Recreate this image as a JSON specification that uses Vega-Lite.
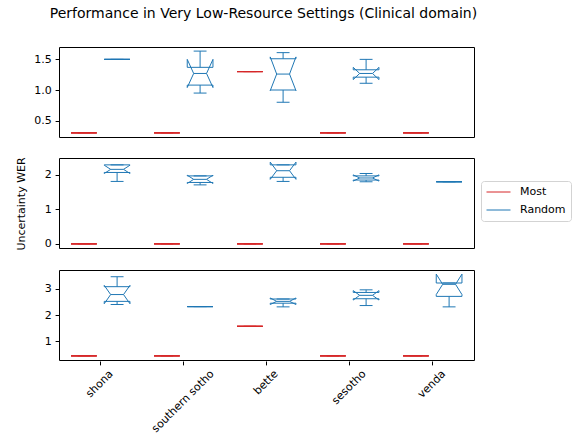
{
"$schema": "https://vega.github.io/schema/vega-lite/v6.json",
"padding": {"left": 15, "top": 6, "right": 0, "bottom": 0},
"title": {"text": "Performance in Very Low-Resource Settings (Clinical domain)", "font": "DejaVu Sans", "fontSize": 14, "fontWeight": "normal", "color": "black", "anchor": "middle", "offset": 26, "dx": -30},
"data": {"values": [
{"panel":1,"lang":"shona","group":"Most","whislo":0.3,"q1":0.3,"cilo":0.3,"med":0.3,"cihi":0.3,"q3":0.3,"whishi":0.3},
{"panel":1,"lang":"shona","group":"Random","whislo":1.5,"q1":1.5,"cilo":1.5,"med":1.5,"cihi":1.5,"q3":1.5,"whishi":1.5},
{"panel":1,"lang":"southern sotho","group":"Most","whislo":0.3,"q1":0.3,"cilo":0.3,"med":0.3,"cihi":0.3,"q3":0.3,"whishi":0.3},
{"panel":1,"lang":"southern sotho","group":"Random","whislo":0.95,"q1":1.08,"cilo":1.04,"med":1.27,"cihi":1.5,"q3":1.37,"whishi":1.635},
{"panel":1,"lang":"bette","group":"Most","whislo":1.3,"q1":1.3,"cilo":1.3,"med":1.3,"cihi":1.3,"q3":1.3,"whishi":1.3},
{"panel":1,"lang":"bette","group":"Random","whislo":0.8,"q1":1.0,"cilo":0.99,"med":1.26,"cihi":1.54,"q3":1.51,"whishi":1.61},
{"panel":1,"lang":"sesotho","group":"Most","whislo":0.3,"q1":0.3,"cilo":0.3,"med":0.3,"cihi":0.3,"q3":0.3,"whishi":0.3},
{"panel":1,"lang":"sesotho","group":"Random","whislo":1.11,"q1":1.21,"cilo":1.17,"med":1.27,"cihi":1.37,"q3":1.33,"whishi":1.5},
{"panel":1,"lang":"venda","group":"Most","whislo":0.3,"q1":0.3,"cilo":0.3,"med":0.3,"cihi":0.3,"q3":0.3,"whishi":0.3},
{"panel":2,"lang":"shona","group":"Most","whislo":0,"q1":0,"cilo":0,"med":0,"cihi":0,"q3":0,"whishi":0},
{"panel":2,"lang":"shona","group":"Random","whislo":1.81,"q1":2.07,"cilo":2.04,"med":2.16,"cihi":2.28,"q3":2.29,"whishi":2.29},
{"panel":2,"lang":"southern sotho","group":"Most","whislo":0,"q1":0,"cilo":0,"med":0,"cihi":0,"q3":0,"whishi":0},
{"panel":2,"lang":"southern sotho","group":"Random","whislo":1.71,"q1":1.78,"cilo":1.75,"med":1.87,"cihi":1.99,"q3":1.97,"whishi":1.97},
{"panel":2,"lang":"bette","group":"Most","whislo":0,"q1":0,"cilo":0,"med":0,"cihi":0,"q3":0,"whishi":0},
{"panel":2,"lang":"bette","group":"Random","whislo":1.81,"q1":1.93,"cilo":1.87,"med":2.12,"cihi":2.37,"q3":2.29,"whishi":2.29},
{"panel":2,"lang":"sesotho","group":"Most","whislo":0,"q1":0,"cilo":0,"med":0,"cihi":0,"q3":0,"whishi":0},
{"panel":2,"lang":"sesotho","group":"Random","whislo":1.8,"q1":1.85,"cilo":1.82,"med":1.91,"cihi":2.0,"q3":1.97,"whishi":2.04},
{"panel":2,"lang":"venda","group":"Most","whislo":0,"q1":0,"cilo":0,"med":0,"cihi":0,"q3":0,"whishi":0},
{"panel":2,"lang":"venda","group":"Random","whislo":1.8,"q1":1.8,"cilo":1.8,"med":1.8,"cihi":1.8,"q3":1.8,"whishi":1.8},
{"panel":3,"lang":"shona","group":"Most","whislo":0.44,"q1":0.44,"cilo":0.44,"med":0.44,"cihi":0.44,"q3":0.44,"whishi":0.44},
{"panel":3,"lang":"shona","group":"Random","whislo":2.4,"q1":2.52,"cilo":2.43,"med":2.78,"cihi":3.13,"q3":3.08,"whishi":3.46},
{"panel":3,"lang":"southern sotho","group":"Most","whislo":0.44,"q1":0.44,"cilo":0.44,"med":0.44,"cihi":0.44,"q3":0.44,"whishi":0.44},
{"panel":3,"lang":"southern sotho","group":"Random","whislo":2.32,"q1":2.32,"cilo":2.32,"med":2.32,"cihi":2.32,"q3":2.32,"whishi":2.32},
{"panel":3,"lang":"bette","group":"Most","whislo":1.57,"q1":1.57,"cilo":1.57,"med":1.57,"cihi":1.57,"q3":1.57,"whishi":1.57},
{"panel":3,"lang":"bette","group":"Random","whislo":2.31,"q1":2.45,"cilo":2.4,"med":2.52,"cihi":2.65,"q3":2.61,"whishi":2.61},
{"panel":3,"lang":"sesotho","group":"Most","whislo":0.44,"q1":0.44,"cilo":0.44,"med":0.44,"cihi":0.44,"q3":0.44,"whishi":0.44},
{"panel":3,"lang":"sesotho","group":"Random","whislo":2.36,"q1":2.62,"cilo":2.57,"med":2.75,"cihi":2.93,"q3":2.86,"whishi":2.96},
{"panel":3,"lang":"venda","group":"Most","whislo":0.44,"q1":0.44,"cilo":0.44,"med":0.44,"cihi":0.44,"q3":0.44,"whishi":0.44},
{"panel":3,"lang":"venda","group":"Random","whislo":2.31,"q1":2.71,"cilo":2.78,"med":3.17,"cihi":3.56,"q3":3.22,"whishi":3.22}
]},
"facet": {"row": {"field": "panel", "type": "ordinal", "title": "Uncertainty WER", "header": {"labels": false, "titleFont": "DejaVu Sans", "titleFontSize": 11, "titleFontWeight": "normal", "titleColor": "black", "titlePadding": -3.5}}},
"spacing": {"row": 19},
"resolve": {"scale": {"y": "independent"}},
"spec": {
"width": 415, "height": 90,
"encoding": {"color": {"field": "group", "type": "nominal", "scale": {"domain": ["Most", "Random"], "range": ["#d62728", "#1f77b4"]}, "legend": {"title": null, "orient": "none", "legendX": 422, "legendY": 134, "symbolType": "stroke", "symbolSize": 576, "symbolStrokeWidth": 1.5, "clipHeight": 12, "rowPadding": 6, "labelFont": "DejaVu Sans", "labelFontSize": 11, "labelColor": "black", "labelOffset": 9, "strokeColor": "#d3d3d3", "fillColor": "white", "padding": 5, "cornerRadius": 3, "encode": {"symbols": {"update": {"stroke": {"scale": "color", "field": "value"}}}}}}},
"layer": [
{"transform": [{"filter": "datum.group === 'Most'"}], "layer": [
{"mark": "rule", "encoding": {"x": {"field": "lang", "type": "nominal", "bandPosition": 0.145, "title": null, "scale": {"domain": ["shona", "southern sotho", "bette", "sesotho", "venda"], "paddingInner": 0, "paddingOuter": -0.03}, "axis": {"labelAngle": -45, "labelAlign": "right", "labelBaseline": "middle", "labelPadding": 7, "labelOffset": {"condition": [{"test": "datum.value === 'southern sotho'", "value": 29}, {"test": "datum.value === 'bette'", "value": 10}, {"test": "datum.value === 'sesotho'", "value": 15}, {"test": "datum.value === 'venda'", "value": 11.5}], "value": 11}}}, "x2": {"field": "lang", "bandPosition": 0.455}, "y": {"field": "q1", "type": "quantitative", "title": null, "scale": {"zero": false, "nice": false, "padding": 4.1}, "axis": {"tickCount": 3}}}},
{"mark": "rule", "encoding": {"x": {"field": "lang", "type": "nominal", "bandPosition": 0.145, "title": null}, "x2": {"field": "lang", "bandPosition": 0.455}, "y": {"field": "q3", "type": "quantitative", "title": null}}},
{"mark": "rule", "encoding": {"x": {"field": "lang", "type": "nominal", "bandPosition": 0.455, "title": null}, "y": {"field": "q1", "type": "quantitative", "title": null}, "y2": {"field": "cilo"}}},
{"mark": "rule", "encoding": {"x": {"field": "lang", "type": "nominal", "bandPosition": 0.455, "title": null}, "x2": {"field": "lang", "bandPosition": 0.3775}, "y": {"field": "cilo", "type": "quantitative", "title": null}, "y2": {"field": "med"}}},
{"mark": "rule", "encoding": {"x": {"field": "lang", "type": "nominal", "bandPosition": 0.3775, "title": null}, "x2": {"field": "lang", "bandPosition": 0.455}, "y": {"field": "med", "type": "quantitative", "title": null}, "y2": {"field": "cihi"}}},
{"mark": "rule", "encoding": {"x": {"field": "lang", "type": "nominal", "bandPosition": 0.455, "title": null}, "y": {"field": "cihi", "type": "quantitative", "title": null}, "y2": {"field": "q3"}}},
{"mark": "rule", "encoding": {"x": {"field": "lang", "type": "nominal", "bandPosition": 0.145, "title": null}, "y": {"field": "q1", "type": "quantitative", "title": null}, "y2": {"field": "cilo"}}},
{"mark": "rule", "encoding": {"x": {"field": "lang", "type": "nominal", "bandPosition": 0.145, "title": null}, "x2": {"field": "lang", "bandPosition": 0.2225}, "y": {"field": "cilo", "type": "quantitative", "title": null}, "y2": {"field": "med"}}},
{"mark": "rule", "encoding": {"x": {"field": "lang", "type": "nominal", "bandPosition": 0.2225, "title": null}, "x2": {"field": "lang", "bandPosition": 0.145}, "y": {"field": "med", "type": "quantitative", "title": null}, "y2": {"field": "cihi"}}},
{"mark": "rule", "encoding": {"x": {"field": "lang", "type": "nominal", "bandPosition": 0.145, "title": null}, "y": {"field": "cihi", "type": "quantitative", "title": null}, "y2": {"field": "q3"}}},
{"mark": "rule", "encoding": {"x": {"field": "lang", "type": "nominal", "bandPosition": 0.2225, "title": null}, "x2": {"field": "lang", "bandPosition": 0.3775}, "y": {"field": "med", "type": "quantitative", "title": null}}},
{"mark": "rule", "encoding": {"x": {"field": "lang", "type": "nominal", "bandPosition": 0.3, "title": null}, "y": {"field": "whislo", "type": "quantitative", "title": null}, "y2": {"field": "q1"}}},
{"mark": "rule", "encoding": {"x": {"field": "lang", "type": "nominal", "bandPosition": 0.3, "title": null}, "y": {"field": "q3", "type": "quantitative", "title": null}, "y2": {"field": "whishi"}}},
{"mark": "rule", "encoding": {"x": {"field": "lang", "type": "nominal", "bandPosition": 0.2225, "title": null}, "x2": {"field": "lang", "bandPosition": 0.3775}, "y": {"field": "whislo", "type": "quantitative", "title": null}}},
{"mark": "rule", "encoding": {"x": {"field": "lang", "type": "nominal", "bandPosition": 0.2225, "title": null}, "x2": {"field": "lang", "bandPosition": 0.3775}, "y": {"field": "whishi", "type": "quantitative", "title": null}}}
]},
{"transform": [{"filter": "datum.group === 'Random'"}], "layer": [
{"mark": "rule", "encoding": {"x": {"field": "lang", "type": "nominal", "bandPosition": 0.545, "title": null}, "x2": {"field": "lang", "bandPosition": 0.855}, "y": {"field": "q1", "type": "quantitative", "title": null}}},
{"mark": "rule", "encoding": {"x": {"field": "lang", "type": "nominal", "bandPosition": 0.545, "title": null}, "x2": {"field": "lang", "bandPosition": 0.855}, "y": {"field": "q3", "type": "quantitative", "title": null}}},
{"mark": "rule", "encoding": {"x": {"field": "lang", "type": "nominal", "bandPosition": 0.855, "title": null}, "y": {"field": "q1", "type": "quantitative", "title": null}, "y2": {"field": "cilo"}}},
{"mark": "rule", "encoding": {"x": {"field": "lang", "type": "nominal", "bandPosition": 0.855, "title": null}, "x2": {"field": "lang", "bandPosition": 0.7775}, "y": {"field": "cilo", "type": "quantitative", "title": null}, "y2": {"field": "med"}}},
{"mark": "rule", "encoding": {"x": {"field": "lang", "type": "nominal", "bandPosition": 0.7775, "title": null}, "x2": {"field": "lang", "bandPosition": 0.855}, "y": {"field": "med", "type": "quantitative", "title": null}, "y2": {"field": "cihi"}}},
{"mark": "rule", "encoding": {"x": {"field": "lang", "type": "nominal", "bandPosition": 0.855, "title": null}, "y": {"field": "cihi", "type": "quantitative", "title": null}, "y2": {"field": "q3"}}},
{"mark": "rule", "encoding": {"x": {"field": "lang", "type": "nominal", "bandPosition": 0.545, "title": null}, "y": {"field": "q1", "type": "quantitative", "title": null}, "y2": {"field": "cilo"}}},
{"mark": "rule", "encoding": {"x": {"field": "lang", "type": "nominal", "bandPosition": 0.545, "title": null}, "x2": {"field": "lang", "bandPosition": 0.6225}, "y": {"field": "cilo", "type": "quantitative", "title": null}, "y2": {"field": "med"}}},
{"mark": "rule", "encoding": {"x": {"field": "lang", "type": "nominal", "bandPosition": 0.6225, "title": null}, "x2": {"field": "lang", "bandPosition": 0.545}, "y": {"field": "med", "type": "quantitative", "title": null}, "y2": {"field": "cihi"}}},
{"mark": "rule", "encoding": {"x": {"field": "lang", "type": "nominal", "bandPosition": 0.545, "title": null}, "y": {"field": "cihi", "type": "quantitative", "title": null}, "y2": {"field": "q3"}}},
{"mark": "rule", "encoding": {"x": {"field": "lang", "type": "nominal", "bandPosition": 0.6225, "title": null}, "x2": {"field": "lang", "bandPosition": 0.7775}, "y": {"field": "med", "type": "quantitative", "title": null}}},
{"mark": "rule", "encoding": {"x": {"field": "lang", "type": "nominal", "bandPosition": 0.7, "title": null}, "y": {"field": "whislo", "type": "quantitative", "title": null}, "y2": {"field": "q1"}}},
{"mark": "rule", "encoding": {"x": {"field": "lang", "type": "nominal", "bandPosition": 0.7, "title": null}, "y": {"field": "q3", "type": "quantitative", "title": null}, "y2": {"field": "whishi"}}},
{"mark": "rule", "encoding": {"x": {"field": "lang", "type": "nominal", "bandPosition": 0.6225, "title": null}, "x2": {"field": "lang", "bandPosition": 0.7775}, "y": {"field": "whislo", "type": "quantitative", "title": null}}},
{"mark": "rule", "encoding": {"x": {"field": "lang", "type": "nominal", "bandPosition": 0.6225, "title": null}, "x2": {"field": "lang", "bandPosition": 0.7775}, "y": {"field": "whishi", "type": "quantitative", "title": null}}}
]}
]},
"config": {
"font": "DejaVu Sans",
"view": {"stroke": "black", "strokeWidth": 1},
"axis": {"grid": false, "domain": false, "labelFont": "DejaVu Sans", "labelFontSize": 11, "labelColor": "black", "tickColor": "black", "tickSize": 3.9, "tickWidth": 1},
"axisY": {"labelPadding": 3.9},
"rule": {"strokeWidth": 1}
}
}
